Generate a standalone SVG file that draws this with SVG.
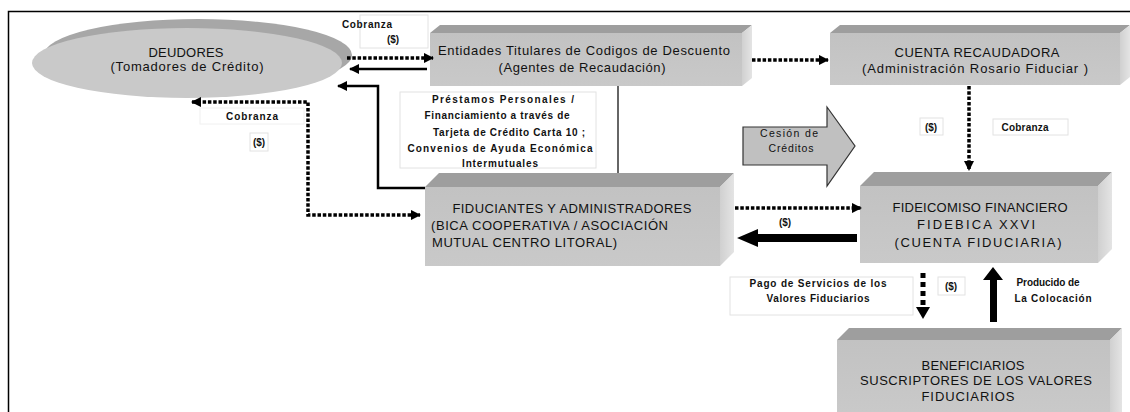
<svg xmlns="http://www.w3.org/2000/svg" width="1130" height="412" viewBox="0 0 1130 412">
<defs>
<marker id="ah" viewBox="0 0 10 10" refX="9" refY="5" markerWidth="3" markerHeight="3" orient="auto-start-reverse" markerUnits="strokeWidth">
<path d="M0,0 L10,5 L0,10 z" fill="#000"/>
</marker>
<marker id="ahs" viewBox="0 0 10 10" refX="9" refY="5" markerWidth="4" markerHeight="4" orient="auto" markerUnits="strokeWidth">
<path d="M0,0 L10,5 L0,10 z" fill="#000"/>
</marker>
<linearGradient id="gf" x1="0" y1="0" x2="0" y2="1">
<stop offset="0" stop-color="#c2c2c2"/>
<stop offset="1" stop-color="#c9c9c9"/>
</linearGradient>
<linearGradient id="gs" x1="0" y1="0" x2="1" y2="0">
<stop offset="0" stop-color="#d0d0d0"/>
<stop offset="1" stop-color="#e4e4e4"/>
</linearGradient>
</defs>
<style>
.front{fill:url(#gf);}
.top{fill:#9e9e9e;}
.side{fill:url(#gs);}
.t{font-family:"Liberation Sans",Arial,sans-serif;font-size:13px;fill:#111;}
.s{font-family:"Liberation Sans",Arial,sans-serif;font-size:10px;font-weight:bold;fill:#111;}
.n{font-family:"Liberation Sans",Arial,sans-serif;font-size:10.5px;fill:#111;}
.lb{fill:#fff;stroke:#e2e2e2;stroke-width:1;}
.dot{fill:none;stroke:#000;stroke-width:3.5;stroke-dasharray:3.5 1.8;}
.sol{fill:none;stroke:#000;stroke-width:2.5;}
</style>
<rect width="1130" height="412" fill="#fff"/>
<path d="M8.5 412 V11.5 H1130" fill="none" stroke="#000" stroke-width="1.5"/>

<g id="deudores">
<ellipse cx="198" cy="55" rx="154" ry="36" fill="#a7a7a7"/>
<ellipse cx="187" cy="63" rx="155" ry="35" fill="#c9c9c9"/>
<text class="t" x="186" y="57" text-anchor="middle" textLength="75" lengthAdjust="spacing">DEUDORES</text>
<text class="t" x="187" y="71" text-anchor="middle" textLength="153" lengthAdjust="spacing">(Tomadores de Crédito)</text>
</g>

<g id="entidades">
<polygon class="top" points="430,33 440,25 752,25 742,33"/>
<polygon class="side" points="742,33 752,25 752,78 742,86"/>
<rect class="front" x="430" y="33" width="312" height="53"/>
<text class="t" x="584" y="55" text-anchor="middle" textLength="292" lengthAdjust="spacing">Entidades Titulares de Codigos de Descuento</text>
<text class="t" x="582" y="72" text-anchor="middle" textLength="167" lengthAdjust="spacing">(Agentes de Recaudación)</text>
</g>

<g id="cuenta">
<polygon class="top" points="830,33 840,25 1130,25 1120,33"/>
<polygon class="side" points="1120,33 1130,25 1130,77 1120,85"/>
<rect class="front" x="830" y="33" width="290" height="52"/>
<text class="t" x="977" y="57" text-anchor="middle" textLength="165" lengthAdjust="spacing">CUENTA RECAUDADORA</text>
<text class="t" x="975" y="73" text-anchor="middle" textLength="226" lengthAdjust="spacing">(Administración Rosario Fiduciar )</text>
</g>

<g id="prestamos">
<rect class="lb" x="400" y="92" width="196" height="76"/>
<text class="s" x="503" y="103" text-anchor="middle" textLength="142" lengthAdjust="spacing">Préstamos Personales  /</text>
<text class="s" x="497" y="119" text-anchor="middle" textLength="145" lengthAdjust="spacing">Financiamiento a través de</text>
<text class="s" x="509" y="136" text-anchor="middle" textLength="152" lengthAdjust="spacing">Tarjeta de Crédito Carta 10 ;</text>
<text class="s" x="500" y="152" text-anchor="middle" textLength="185" lengthAdjust="spacing">Convenios de Ayuda Económica</text>
<text class="s" x="500" y="167" text-anchor="middle" textLength="76" lengthAdjust="spacing">Intermutuales</text>
</g>

<g id="cesion">
<polygon points="743,127 827,127 827,107 855,146 827,186 827,165 743,165" fill="#c0c0c0" stroke="#333" stroke-width="1.2"/>
<text class="n" x="789" y="137" text-anchor="middle" textLength="58" lengthAdjust="spacing">Cesión de</text>
<text class="n" x="791" y="152" text-anchor="middle" textLength="45" lengthAdjust="spacing">Créditos</text>
</g>

<g id="fiduciantes">
<polygon class="top" points="425,187 439,173 734,173 720,187"/>
<polygon class="side" points="720,187 734,173 734,252 720,266"/>
<rect class="front" x="425" y="187" width="295" height="79"/>
<text class="t" x="572" y="213" text-anchor="middle" textLength="239" lengthAdjust="spacing">FIDUCIANTES Y ADMINISTRADORES</text>
<text class="t" x="431" y="230" textLength="237" lengthAdjust="spacing">(BICA COOPERATIVA / ASOCIACIÓN</text>
<text class="t" x="432" y="247" textLength="185" lengthAdjust="spacing">MUTUAL CENTRO LITORAL)</text>
</g>

<g id="fideicomiso">
<polygon class="top" points="860,186 874,172 1112,172 1098,186"/>
<polygon class="side" points="1098,186 1112,172 1112,249 1098,263"/>
<rect class="front" x="860" y="186" width="238" height="77"/>
<text class="t" x="980" y="212" text-anchor="middle" textLength="175" lengthAdjust="spacing">FIDEICOMISO FINANCIERO</text>
<text class="t" x="976" y="229" text-anchor="middle" textLength="118" lengthAdjust="spacing">FIDEBICA XXVI</text>
<text class="t" x="978" y="247" text-anchor="middle" textLength="167" lengthAdjust="spacing">(CUENTA FIDUCIARIA)</text>
</g>

<g id="beneficiarios">
<polygon class="top" points="837,340 849,328 1122,328 1110,340"/>
<polygon class="side" points="1110,340 1122,328 1122,412 1110,412"/>
<rect class="front" x="837" y="340" width="273" height="72"/>
<text class="t" x="973" y="370" text-anchor="middle" textLength="103" lengthAdjust="spacing">BENEFICIARIOS</text>
<text class="t" x="976" y="385" text-anchor="middle" textLength="232" lengthAdjust="spacing">SUSCRIPTORES DE LOS VALORES</text>
<text class="t" x="968" y="401" text-anchor="middle" textLength="93" lengthAdjust="spacing">FIDUCIARIOS</text>
</g>

<g id="labels">
<rect class="lb" x="360" y="15" width="68" height="33"/>
<text class="s" x="367" y="28" text-anchor="middle" textLength="50" lengthAdjust="spacing">Cobranza</text>
<text class="s" x="393" y="43" text-anchor="middle">($)</text>
<rect class="lb" x="200" y="108" width="104" height="16" style="stroke:#f0f0f0"/>
<text class="s" x="252" y="120" text-anchor="middle" textLength="52" lengthAdjust="spacing">Cobranza</text>
<rect class="lb" x="250" y="133" width="18" height="18"/>
<text class="s" x="259" y="146" text-anchor="middle">($)</text>
<rect class="lb" x="920" y="118" width="23" height="17"/>
<text class="s" x="931" y="131" text-anchor="middle">($)</text>
<rect class="lb" x="993" y="119" width="75" height="16"/>
<text class="s" x="1025" y="131" text-anchor="middle" textLength="47" lengthAdjust="spacing">Cobranza</text>
<text class="s" x="785" y="226" text-anchor="middle">($)</text>
<rect class="lb" x="730" y="277" width="183" height="38"/>
<text class="s" x="818" y="287" text-anchor="middle" textLength="137" lengthAdjust="spacing">Pago de Servicios de los</text>
<text class="s" x="818" y="302" text-anchor="middle" textLength="103" lengthAdjust="spacing">Valores Fiduciarios</text>
<rect class="lb" x="938" y="277" width="27" height="18"/>
<text class="s" x="951" y="290" text-anchor="middle">($)</text>
<text class="s" x="1048" y="286" text-anchor="middle" textLength="63" lengthAdjust="spacing">Producido de</text>
<text class="s" x="1053" y="302" text-anchor="middle" textLength="77" lengthAdjust="spacing">La Colocación</text>
</g>

<g id="connectors">
<path class="dot" d="M347 58 H433" marker-end="url(#ah)"/>
<path class="sol" d="M427 69 H350" marker-end="url(#ahs)"/>
<path class="sol" d="M425 188 H378 V86 H338" marker-end="url(#ahs)"/>
<path class="dot" d="M192 102 H308 V215 H420" marker-start="url(#ah)" marker-end="url(#ah)"/>
<path class="dot" d="M752 60 H828" marker-end="url(#ah)"/>
<line x1="618" y1="86" x2="618" y2="173" stroke="#333" stroke-width="1.5"/>
<path class="dot" d="M969 86 V170" marker-end="url(#ah)"/>
<path class="dot" d="M735 208 H861" marker-end="url(#ah)"/>
<polygon points="857,234 758,234 758,229 737,238 758,247 758,242 857,242" fill="#000"/>
<line x1="923" y1="273" x2="923" y2="306" stroke="#000" stroke-width="5" stroke-dasharray="5 4"/>
<polygon points="916,307 930,307 923,319" fill="#000"/>
<polygon points="990,322 990,280 983,280 993,267 1003,280 997,280 997,322" fill="#000"/>
</g>
</svg>
